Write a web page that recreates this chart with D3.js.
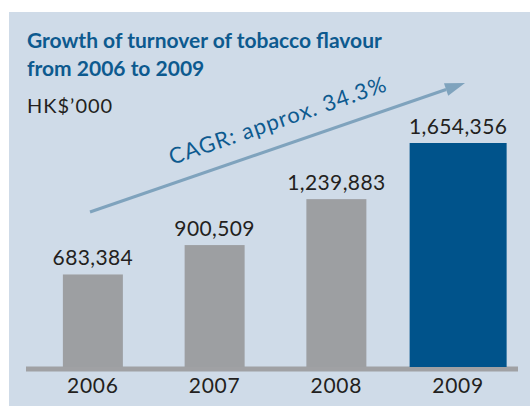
<!DOCTYPE html>
<html>
<head>
<meta charset="utf-8">
<script src="https://cdn.jsdelivr.net/npm/d3@7"></script>
<style>
  body { margin: 0; background: #fff; }
  svg { display: block; }
</style>
</head>
<body>
<div id="chart"></div>
<script>
// chart data
var years = ["2006", "2007", "2008", "2009"];
var turnover = [683384, 900509, 1239883, 1654356];
var titleLines = ["Growth of turnover of tobacco flavour", "from 2006 to 2009"];
var unitLabel = "HK$\u2019000";
var cagrLabel = "CAGR: approx. 34.3%";

var W = 530, H = 406;
var FONT = "Lato, 'Open Sans', sans-serif";

var svg = d3.select("#chart").append("svg")
    .attr("width", W)
    .attr("height", H);

// panel background
svg.append("rect")
    .attr("x", 9).attr("y", 12)
    .attr("width", W - 9).attr("height", H - 12)
    .attr("fill", "#cfdbe8");

// title
svg.append("g").selectAll("text")
    .data(titleLines)
    .enter().append("text")
    .attr("x", 27)
    .attr("y", function (d, i) { return 48 + i * 28; })
    .attr("font-family", FONT)
    .attr("font-weight", "bold")
    .attr("font-size", 21)
    .attr("fill", "#0d5a8f")
    .text(function (d) { return d; });

svg.append("text")
    .attr("x", 27).attr("y", 113)
    .attr("font-family", FONT)
    .attr("font-size", 20)
    .attr("letter-spacing", 1)
    .attr("fill", "#231f20")
    .text(unitLabel);

// scales
var x = d3.scalePoint().domain(years).range([32, 519]).padding(0.5);
var y = d3.scaleLinear().domain([0, d3.max(turnover)]).range([367, 143]);

var data = years.map(function (yr, i) { return { year: yr, value: turnover[i], last: i === years.length - 1 }; });
function barW(d) { return d.last ? 97 : 60; }

// baseline
svg.append("rect")
    .attr("x", 26).attr("y", 366.5)
    .attr("width", 492).attr("height", 5)
    .attr("fill", "#a0a1a4");

// bars
svg.append("g").selectAll("rect")
    .data(data)
    .enter().append("rect")
    .attr("x", function (d) { return x(d.year) - barW(d) / 2; })
    .attr("y", function (d) { return y(d.value); })
    .attr("width", barW)
    .attr("height", function (d) { return y(0) - y(d.value); })
    .attr("fill", function (d) { return d.last ? "#00538b" : "#9d9fa2"; });

// value labels
var fmt = d3.format(",");
svg.append("g").selectAll("text")
    .data(data)
    .enter().append("text")
    .attr("x", function (d) { return x(d.year); })
    .attr("y", function (d) { return y(d.value) - 9; })
    .attr("text-anchor", "middle")
    .attr("font-family", FONT)
    .attr("font-size", 21)
    .attr("letter-spacing", 0.4)
    .attr("fill", "#231f20")
    .text(function (d) { return fmt(d.value); });

// year axis labels
svg.append("g").selectAll("text")
    .data(years)
    .enter().append("text")
    .attr("x", function (d) { return x(d); })
    .attr("y", 393)
    .attr("text-anchor", "middle")
    .attr("font-family", FONT)
    .attr("font-size", 21)
    .attr("letter-spacing", 0.8)
    .attr("fill", "#231f20")
    .text(function (d) { return d; });

// CAGR arrow
var a0 = [90, 212], a1 = [465, 83];
var ang = Math.atan2(a1[1] - a0[1], a1[0] - a0[0]);
var headLen = 20, headHalf = 6.5;
var bx = a1[0] - headLen * Math.cos(ang), by = a1[1] - headLen * Math.sin(ang);

svg.append("line")
    .attr("x1", a0[0]).attr("y1", a0[1])
    .attr("x2", bx).attr("y2", by)
    .attr("stroke", "#7fa3bd")
    .attr("stroke-width", 3);

svg.append("path")
    .attr("d", "M" + a1[0] + "," + a1[1] +
        "L" + (bx - headHalf * Math.sin(ang)) + "," + (by + headHalf * Math.cos(ang)) +
        "L" + (bx + headHalf * Math.sin(ang)) + "," + (by - headHalf * Math.cos(ang)) + "Z")
    .attr("fill", "#7fa3bd");

svg.append("text")
    .attr("transform", "translate(172,165) rotate(" + (ang * 180 / Math.PI) + ")")
    .attr("font-family", FONT)
    .attr("font-size", 22)
    .attr("letter-spacing", 1.1)
    .attr("fill", "#0d5a8f")
    .text(cagrLabel);
</script>
</body>
</html>
